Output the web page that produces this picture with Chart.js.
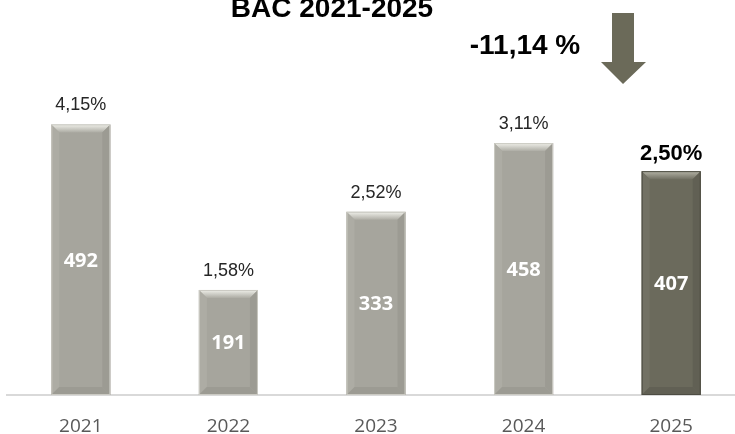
<!DOCTYPE html>
<html>
<head>
<meta charset="utf-8">
<script src="https://cdn.jsdelivr.net/npm/chart.js@4.4.1/dist/chart.umd.min.js"></script>
<style>
  html, body { margin: 0; padding: 0; background: #ffffff; overflow: hidden; }
  #wrap { width: 745px; height: 434px; position: relative; }
</style>
</head>
<body>
<div id="wrap"><canvas id="barChart"></canvas></div>
<script>
// data
const YEARS = ['2021', '2022', '2023', '2024', '2025'];
const COUNTS = [492, 191, 333, 458, 407];
const RATES = ['4,15%', '1,58%', '2,52%', '3,11%', '2,50%'];
const TITLE = 'BAC 2021-2025';
const CHANGE = '-11,14 %';

// last bar is highlighted
const HIGHLIGHT = YEARS.length - 1;
const LIGHT = { body: '#a6a59d', edge: '#cbcac3', top: '#f0f0ea', side: '#adaca4', dark: '#9c9b93' };
const DARK = { body: '#6b6a5c', edge: '#4d4c42', top: '#b5b4a7', side: '#727164', dark: '#616054' };

function barStyle(i) {
    return i == HIGHLIGHT ? DARK : LIGHT;
}

// bevel look for the bars, drawn on top of the bar elements
const bevelPlugin = {
    id: 'bevel',
    afterDatasetsDraw(chart) {
        const ctx = chart.ctx;
        const meta = chart.getDatasetMeta(0);
        meta.data.forEach(function (bar, i) {
            const st = barStyle(i);
            const l = bar.x - bar.width / 2;
            const r = bar.x + bar.width / 2;
            const t = bar.y;
            const b = bar.base;
            const bv = 8;
            ctx.save();
            // top bevel
            let g = ctx.createLinearGradient(0, t, 0, t + bv);
            g.addColorStop(0, st.top);
            g.addColorStop(1, st.side);
            ctx.fillStyle = g;
            ctx.beginPath();
            ctx.moveTo(l, t); ctx.lineTo(r, t); ctx.lineTo(r - bv, t + bv); ctx.lineTo(l + bv, t + bv);
            ctx.closePath(); ctx.fill();
            // left bevel
            ctx.fillStyle = st.side;
            ctx.beginPath();
            ctx.moveTo(l, t); ctx.lineTo(l + bv, t + bv); ctx.lineTo(l + bv, b - bv); ctx.lineTo(l, b);
            ctx.closePath(); ctx.fill();
            // right bevel
            ctx.fillStyle = st.dark;
            ctx.beginPath();
            ctx.moveTo(r, t); ctx.lineTo(r - bv, t + bv); ctx.lineTo(r - bv, b - bv); ctx.lineTo(r, b);
            ctx.closePath(); ctx.fill();
            // bottom bevel
            ctx.fillStyle = st.dark;
            ctx.beginPath();
            ctx.moveTo(l, b); ctx.lineTo(l + bv, b - bv); ctx.lineTo(r - bv, b - bv); ctx.lineTo(r, b);
            ctx.closePath(); ctx.fill();
            // outline
            ctx.strokeStyle = st.edge;
            ctx.lineWidth = 1;
            ctx.strokeRect(l + 0.5, t + 0.5, bar.width - 1, b - t - 1);
            ctx.restore();
        });
    }
};

// value inside, rate above, plus title / change / arrow
const labelPlugin = {
    id: 'labels',
    afterDraw(chart) {
        const ctx = chart.ctx;
        const meta = chart.getDatasetMeta(0);
        ctx.save();
        ctx.textAlign = 'center';
        ctx.textBaseline = 'alphabetic';
        meta.data.forEach(function (bar, i) {
            // count inside the bar
            ctx.fillStyle = '#ffffff';
            ctx.font = 'bold 20px "Open Sans"';
            ctx.fillText(String(COUNTS[i]), bar.x, (bar.y + bar.base) / 2 + 7);
            // rate above
            if (i == HIGHLIGHT) {
                ctx.fillStyle = '#000000';
                ctx.font = 'bold 22px "Liberation Sans", Arial';
                ctx.fillText(RATES[i], bar.x, bar.y - 11);
            } else {
                ctx.fillStyle = '#262626';
                ctx.font = '18px "Liberation Sans", Arial';
                ctx.fillText(RATES[i], bar.x, bar.y - 14);
            }
        });

        ctx.fillStyle = '#000000';
        ctx.font = 'bold 28px "Liberation Sans", Arial';
        ctx.fillText(TITLE, 332, 17);
        ctx.fillText(CHANGE, 525, 54);

        // down arrow
        ctx.fillStyle = '#6b6a59';
        ctx.beginPath();
        ctx.moveTo(612, 13); ctx.lineTo(634, 13); ctx.lineTo(634, 62); ctx.lineTo(646, 62);
        ctx.lineTo(623, 84); ctx.lineTo(601, 62); ctx.lineTo(612, 62);
        ctx.closePath(); ctx.fill();
        ctx.restore();
    }
};

const ctx = document.getElementById('barChart').getContext('2d');
const myChart = new Chart(ctx, {
    type: 'bar',
    data: {
        labels: YEARS,
        datasets: [{
            data: COUNTS,
            backgroundColor: YEARS.map(function (y, i) { return barStyle(i).body; }),
            borderWidth: 0,
            barPercentage: 0.8,
            categoryPercentage: 0.5
        }]
    },
    options: {
        responsive: true,
        maintainAspectRatio: false,
        animation: false,
        layout: { padding: { top: 10, left: 7, right: 0, bottom: 0 } },
        plugins: {
            legend: { display: false },
            tooltip: { enabled: false },
            title: { display: false }
        },
        scales: {
            x: {
                grid: { display: false, drawTicks: false },
                border: { display: true, color: '#d9d9d9', width: 2 },
                ticks: { color: '#595959', font: { family: 'Open Sans', size: 19 }, padding: 20 },
                afterFit: function (scale) { scale.height = 39; }
            },
            y: {
                display: false,
                min: 0,
                max: 700
            }
        }
    },
    plugins: [bevelPlugin, labelPlugin]
});
</script>
</body>
</html>
